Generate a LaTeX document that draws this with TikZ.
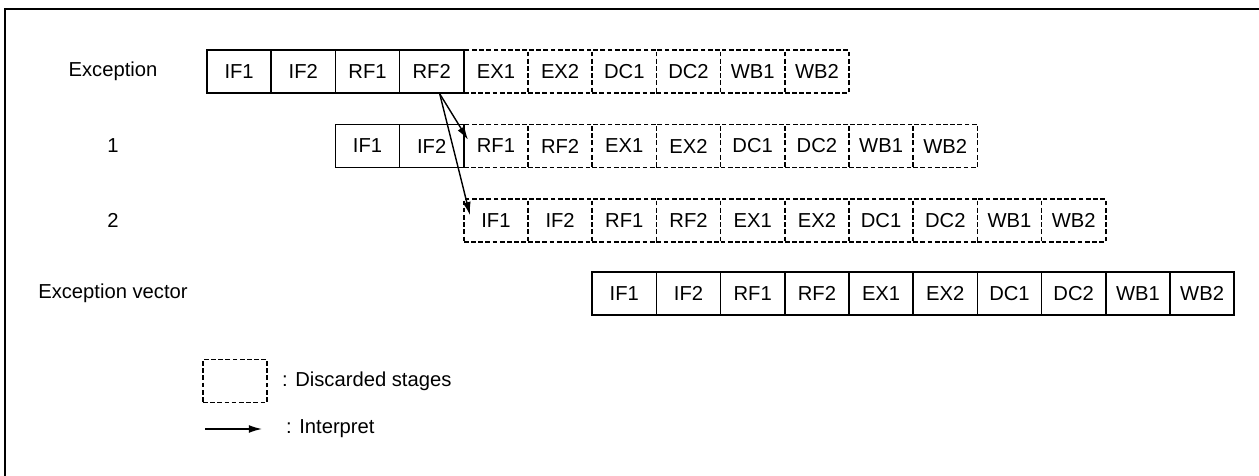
\documentclass[tikz,border=0pt]{standalone}
\usepackage{fontspec}
\setmainfont{Liberation Sans}
\usetikzlibrary{arrows.meta,calc}

\begin{document}
\begin{tikzpicture}[x=0.02cm, y=-0.02cm,
  every node/.style={font=\fontsize{11.5}{13}\selectfont},
  stage/.style={draw, line width=0.9pt, minimum width=1.284cm, minimum height=0.86cm, inner sep=0pt},
  kept/.style={stage},
  gone/.style={stage, dash pattern=on 2.7pt off 1.4pt},
  interp/.style={-{Latex[length=7.5pt,width=4.5pt]}, line width=0.8pt}]

  \useasboundingbox (0,0) rectangle (1259,476);

  % ── Frame ─────────────────────────────────────────────────────
  \draw[line width=1.2pt] (5,476) -- (5,9) -- (1259,9);

  % ── Row labels ────────────────────────────────────────────────
  \node (lbl-ex)  at (113,71.5)  {Exception};
  \node (lbl-one) at (113,146)   {1};
  \node (lbl-two) at (113,220.5) {2};
  \node (lbl-vec) at (113,293.5) {Exception vector};

  % ── Exception: IF1--RF2 kept, rest discarded ──────────────────
  \foreach \st/\how [count=\i] in {IF1/kept,IF2/kept,RF1/kept,RF2/kept,EX1/gone,
                                   EX2/gone,DC1/gone,DC2/gone,WB1/gone,WB2/gone}
    \node[\how] (ex-\i) at ({207+(\i-0.5)*64.2},71.5) {\st};

  % ── Instruction 1: IF1, IF2 kept ──────────────────────────────
  \foreach \st/\how [count=\i] in {IF1/kept,IF2/kept,RF1/gone,RF2/gone,EX1/gone,
                                   EX2/gone,DC1/gone,DC2/gone,WB1/gone,WB2/gone}
    \node[\how] (a-\i) at ({335.4+(\i-0.5)*64.2},146) {\st};

  % ── Instruction 2: all discarded ──────────────────────────────
  \foreach \st [count=\i] in {IF1,IF2,RF1,RF2,EX1,EX2,DC1,DC2,WB1,WB2}
    \node[gone] (b-\i) at ({463.8+(\i-0.5)*64.2},220.5) {\st};

  % ── Exception vector ──────────────────────────────────────────
  \foreach \st [count=\i] in {IF1,IF2,RF1,RF2,EX1,EX2,DC1,DC2,WB1,WB2}
    \node[kept] (vec-\i) at ({592.2+(\i-0.5)*64.2},293.5) {\st};

  % ── Interpret arrows ──────────────────────────────────────────
  \coordinate (src) at ($(ex-4.south)+(8,0)$);
  \coordinate (tip-a) at ($(a-3.north west)+(5,16)$);
  \coordinate (tip-b) at ($(b-1.north west)+(7,17)$);
  \draw[interp] (src) -- (tip-a);
  \draw[interp] (src) -- (tip-b);

  % ── Legend ────────────────────────────────────────────────────
  \node[gone] (key-box) at (235,381) {};
  \node[anchor=west] (key-box-txt) at (276,381) {: Discarded stages};
  \coordinate (key-a) at (205,429);
  \coordinate (key-b) at (262,429);
  \draw[interp] (key-a) -- (key-b);
  \node[anchor=west] (key-arr-txt) at (280,429) {: Interpret};

\end{tikzpicture}
\end{document}
